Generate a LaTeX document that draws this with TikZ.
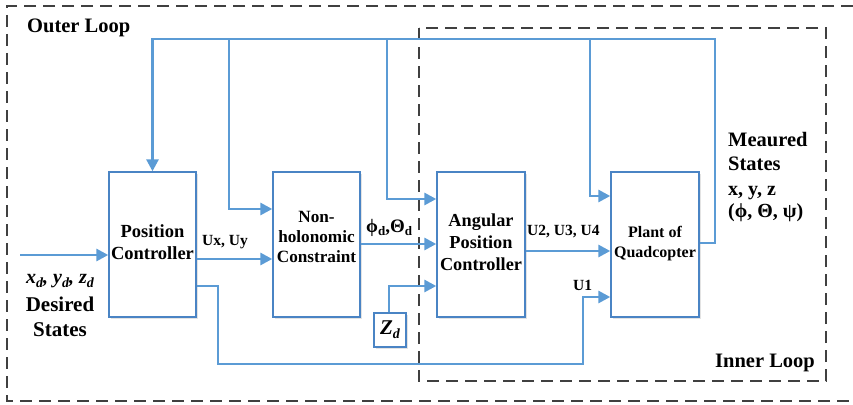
\documentclass[tikz,border=0pt]{standalone}
\usepackage{fontspec}
\setmainfont{Liberation Serif}
\usetikzlibrary{arrows.meta,shadows}
\definecolor{lineblue}{HTML}{5B9BD5}
\definecolor{boxblue}{HTML}{4A84C4}
\definecolor{dashgray}{HTML}{404040}
\newcommand{\fs}[2]{\fontsize{#1}{#2}\selectfont}
\tikzset{
  blk/.style={draw=boxblue, line width=1.4pt, fill=white, minimum width=87pt, minimum height=145pt, inner sep=0pt,
    drop shadow={opacity=0.22, shadow xshift=1.5pt, shadow yshift=-1.5pt}},
  conn/.style={draw=lineblue, line width=2.8pt, -{Triangle[length=12pt,width=12pt]}},
  loopbox/.style={draw=dashgray, line width=1.4pt, dash pattern=on 12pt off 7pt},
  txt/.style={inner sep=0pt, font=\bfseries},
}
\begin{document}
\begin{tikzpicture}[x=1pt,y=-1pt]
\useasboundingbox (0,0) rectangle (853,404);
% loops
\draw[loopbox] (853,6) -- (7,6) -- (7,401) -- (853,401);
\draw[loopbox] (419,28) rectangle (826,381);
\node[txt, anchor=base west, font=\bfseries\fs{20.5}{22}] (outerlbl) at (27,33) {Outer Loop};
\node[txt, anchor=base west, font=\bfseries\fs{20.5}{22}] (innerlbl) at (715,367) {Inner Loop};
% blocks
\node[blk] (pc) at (152.5,244.5) {};
\node[blk] (nh) at (316.5,244.5) {};
\node[blk, minimum width=88pt] (ang) at (481,244.5) {};
\node[blk, minimum width=88pt] (plant) at (655,244.5) {};
\node[draw=boxblue, line width=1.4pt, fill=white, minimum width=32pt, minimum height=34pt, inner sep=0pt,
  drop shadow={opacity=0.22, shadow xshift=1.5pt, shadow yshift=-1.5pt}] (zd) at (390,330)
  {\bfseries\itshape\fs{21}{22}Z\raisebox{-4pt}{\fs{14}{15}d}};
% block texts
\node[txt, align=center, font=\bfseries\fs{18.5}{22}] (pctxt) at (152.5,242.6) {Position\\Controller};
\node[txt, align=center, font=\bfseries\fs{17.2}{20}] (nhtxt) at (316.5,237) {Non-\\holonomic\\Constraint};
\node[txt, align=center, font=\bfseries\fs{18.3}{22}] (angtxt) at (481,242.6) {Angular\\Position\\Controller};
\node[txt, align=center, font=\bfseries\fs{16}{20}] (planttxt) at (655,243.2) {Plant of\\Quadcopter};
% signal labels
\node[txt, anchor=base west, font=\bfseries\fs{15.5}{17}] (uxy) at (202,245) {Ux, Uy};
\node[txt, anchor=base west, font=\bfseries\fs{15.5}{17}] (u234) at (527,235) {U2, U3, U4};
\node[txt, anchor=base west, font=\bfseries\fs{15.5}{17}] (u1) at (573,290) {U1};
\node[txt, anchor=base west, font=\bfseries\fs{19}{20}] (phth) at (366,232)
  {ϕ\raisebox{-3pt}{\fs{13}{14}d},Θ\raisebox{-3pt}{\fs{13}{14}d}};
% desired states
\node[txt, anchor=base, font=\bfseries\itshape\fs{20}{22}] (xyz) at (60,283)
  {x\raisebox{-4pt}{\fs{14}{15}d}, y\raisebox{-4pt}{\fs{14}{15}d}, z\raisebox{-4pt}{\fs{14}{15}d}};
\node[txt, anchor=base, font=\bfseries\fs{21}{22}] (des) at (60,311) {Desired};
\node[txt, anchor=base, font=\bfseries\fs{21}{22}] (dst) at (60,336) {States};
% measured states
\node[txt, anchor=base west, font=\bfseries\fs{20.5}{22}] (mea) at (728,146) {Meaured};
\node[txt, anchor=base west, font=\bfseries\fs{20.5}{22}] (mst) at (728,170) {States};
\node[txt, anchor=base west, font=\bfseries\fs{20}{22}] (mxyz) at (728,195) {x, y, z};
\node[txt, anchor=base west, font=\bfseries\fs{20}{22}] (mang) at (728,217) {(ϕ, Θ, ψ)};
% connectors
\coordinate (in) at (20,255);
\draw[conn] (in) -- (pc.west |- in);
\draw[conn] (pc.east |- 0,259) -- (nh.west |- 0,259);
\draw[conn] (nh.east |- 0,244) -- (ang.west |- 0,244);
\draw[conn] (ang.east |- 0,251) -- (plant.west |- 0,251);
\draw[conn] (zd.north -| 389,0) |- (ang.west |- 0,286);
\coordinate (lowa) at (218,364);
\coordinate (lowb) at (583,297);
\draw[conn] (pc.east |- 0,286) -| (lowa) -| (lowb) -- (plant.west |- lowb);
% feedback
\coordinate (fbr) at (715,39);
\draw[conn] (plant.east |- 0,243) -| (fbr) -| (pc.north);
\coordinate (fb1) at (229,39);
\coordinate (fb2) at (387,39);
\coordinate (fb3) at (590,39);
\draw[conn] (fb1) |- (nh.west |- 0,209);
\draw[conn] (fb2) |- (ang.west |- 0,199);
\draw[conn] (fb3) |- (plant.west |- 0,196);
\end{tikzpicture}
\end{document}
